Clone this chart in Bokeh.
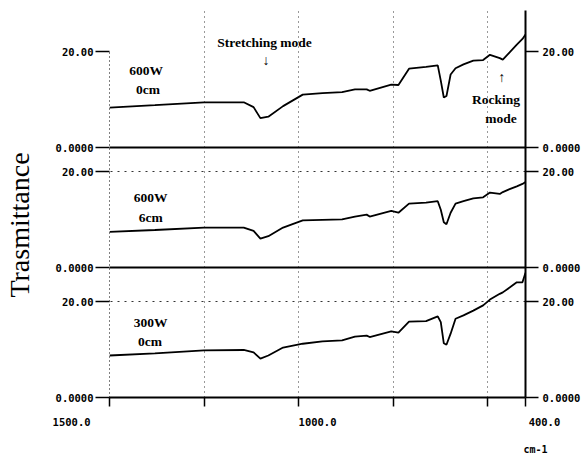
import numpy as np
from bokeh.plotting import figure
from bokeh.models import (Range1d, FixedTicker, LinearAxis, Grid, Title,
                          LabelSet, ColumnDataSource)
from bokeh.embed import file_html
from bokeh.resources import INLINE

# ---------------- data ----------------
wavenumber = [1500, 1380, 1250, 1145, 1119, 1101, 1080, 1041, 989, 937, 885,
              851, 820, 812, 755, 736, 708, 663, 632, 624, 616, 609, 598, 585,
              564, 538, 512, 494, 468, 460, 442, 423, 408, 400]

t_600w_0cm = [8.4, 8.9, 9.5, 9.5, 8.5, 6.2, 6.5, 8.7, 11.1, 11.4, 11.6,
              12.2, 12.2, 11.9, 13.2, 13.1, 16.5, 16.9, 17.2, 14.0, 10.5, 10.8,
              15.3, 16.6, 17.4, 18.2, 18.3, 19.4, 18.7, 18.4, 19.9, 21.5, 22.7, 23.6]

t_600w_6cm = [7.5, 7.9, 8.4, 8.4, 7.7, 6.1, 6.6, 8.4, 9.9, 10.0, 10.1,
              10.7, 11.1, 10.7, 11.9, 11.5, 13.4, 13.6, 13.9, 12.1, 9.5, 9.1,
              11.5, 13.4, 13.9, 14.5, 14.7, 15.7, 15.4, 15.8, 16.4, 17.0, 17.5, 17.9]

t_300w_0cm = [8.75, 9.2, 9.8, 9.9, 9.4, 8.1, 8.75, 10.4, 11.2, 11.7, 11.9,
              12.7, 12.9, 12.6, 13.8, 13.5, 15.8, 15.9, 16.9, 15.7, 11.3, 11.0,
              13.3, 16.4, 17.1, 18.1, 19.2, 20.4, 21.6, 21.9, 22.9, 24.0, 24.0, 26.0]

panel_series = [t_600w_0cm, t_600w_6cm, t_300w_0cm]
panel_offsets = [52, 27, 0]          # vertical stacking of the three spectra
panel_ticks = [0, 20]
panel_tick_labels = ["0.0000", "20.00"]

x_tick_values = [1500, 1000, 400]
x_tick_labels = ["1500.0", "1000.0", "400.0"]
x_grid_values = [1250, 1000, 750, 500]
x_mark_values = [1250, 1000, 750, 500, 400]

ann_text = ["Stretching mode", "600W", "0cm", "600W", "6cm",
            "300W", "0cm", "Rocking", "mode"]
ann_x = [1090, 1403, 1398, 1391, 1391, 1391, 1393, 478, 465]
ann_y = [73.9, 68.1, 64.2, 41.7, 37.4, 15.6, 11.7, 62.1, 58.1]

arrow_text = ["\u2193", "\u2191"]
arrow_x = [1086, 463]
arrow_y = [70.2, 66.6]

# ---------------- figure ----------------
p = figure(width=583, height=459, output_backend="svg", toolbar_location=None,
           x_range=Range1d(1500, 400), y_range=Range1d(0, 80.625),
           min_border_left=104, min_border_right=57, min_border_top=10,
           min_border_bottom=62)
p.outline_line_color = None

MONO = "DejaVu Sans Mono"
SERIF = "Liberation Serif"
NBSP = "\u00a0"

# y ticks for each stacked panel
y_ticks = []
y_over = {}
for off in panel_offsets:
    for t, lab in zip(panel_ticks, panel_tick_labels):
        y_ticks.append(off + t)
        y_over[off + t] = lab
y_ticks = sorted(y_ticks)


def style_y(ax, tick_out, standoff, size):
    ax.ticker = FixedTicker(ticks=y_ticks, minor_ticks=[])
    ax.major_label_overrides = y_over
    ax.major_tick_out = tick_out
    ax.major_tick_in = 0
    ax.minor_tick_out = 0
    ax.minor_tick_in = 0
    ax.major_tick_line_color = "black"
    ax.major_tick_line_width = 1.5
    ax.major_label_standoff = standoff
    ax.major_label_text_font = MONO
    ax.major_label_text_font_style = "bold"
    ax.major_label_text_font_size = size
    ax.major_label_text_color = "black"


yl = p.yaxis[0]
style_y(yl, 14, 2, "10.5px")
yl.bounds = (min(y_ticks), max(y_ticks))
yl.axis_line_color = "black"
yl.axis_line_dash = "1 3"
yl.axis_line_width = 1
yl.axis_label = "Trasmittance" + NBSP * 6
yl.axis_label_text_font = SERIF
yl.axis_label_text_font_style = "normal"
yl.axis_label_text_font_size = "28px"
yl.axis_label_text_color = "black"
yl.axis_label_standoff = 18

yr = LinearAxis()
style_y(yr, 13, 4, "10.5px")
yr.axis_line_color = "black"
yr.axis_line_width = 2
p.add_layout(yr, "right")

# x axis: tick marks plus the three labelled values
xa = p.xaxis[0]
xa.ticker = FixedTicker(ticks=sorted(set(x_mark_values + x_tick_values)), minor_ticks=[])
x_over = {v: "" for v in x_mark_values}
x_over[x_tick_values[0]] = x_tick_labels[0] + NBSP * 12
x_over[x_tick_values[1]] = NBSP * 6 + x_tick_labels[1]
x_over[x_tick_values[2]] = NBSP * 6 + x_tick_labels[2]
xa.major_label_overrides = x_over
xa.major_tick_out = 9
xa.major_tick_in = 0
xa.minor_tick_out = 0
xa.major_tick_line_color = "black"
xa.major_tick_line_width = 1.5
xa.major_label_standoff = 9
xa.major_label_text_font = MONO
xa.major_label_text_font_style = "bold"
xa.major_label_text_font_size = "10.5px"
xa.major_label_text_color = "black"
xa.axis_line_color = "black"
xa.axis_line_width = 2

p.add_layout(Title(text=NBSP + "\ncm-1", align="right", offset=-22, standoff=4,
                   vertical_align="top", text_font=MONO, text_font_style="bold",
                   text_font_size="10px", text_color="black"), "below")

# grids
p.xgrid.ticker = FixedTicker(ticks=x_grid_values, minor_ticks=[])
p.xgrid.grid_line_color = "black"
p.xgrid.grid_line_dash = "1 4"
p.xgrid.grid_line_alpha = 0.8
p.xgrid.grid_line_width = 1

p.ygrid.ticker = FixedTicker(ticks=[o for o in panel_offsets if o > 0], minor_ticks=[])
p.ygrid.grid_line_color = "black"
p.ygrid.grid_line_width = 2

dotted_top = Grid(dimension=1,
                  ticker=FixedTicker(ticks=[o + panel_ticks[1] for o in panel_offsets[1:]],
                                     minor_ticks=[]),
                  grid_line_color="black", grid_line_dash="2 5",
                  grid_line_alpha=0.8, grid_line_width=1)
p.add_layout(dotted_top)

# spectra
for vals, off in zip(panel_series, panel_offsets):
    p.line(wavenumber, np.array(vals) + off, line_color="black", line_width=1.8)

# annotations inside the plot
ann_src = ColumnDataSource(dict(x=ann_x, y=ann_y, text=ann_text))
p.add_layout(LabelSet(x="x", y="y", text="text", source=ann_src,
                      text_align="center", text_baseline="middle",
                      text_font=SERIF, text_font_style="bold",
                      text_font_size="13.5px", text_color="black"))
arr_src = ColumnDataSource(dict(x=arrow_x, y=arrow_y, text=arrow_text))
p.add_layout(LabelSet(x="x", y="y", text="text", source=arr_src,
                      text_align="center", text_baseline="middle",
                      text_font="DejaVu Sans", text_font_style="bold",
                      text_font_size="14px", text_color="black"))

open("out.html", "w").write(file_html(p, INLINE))
